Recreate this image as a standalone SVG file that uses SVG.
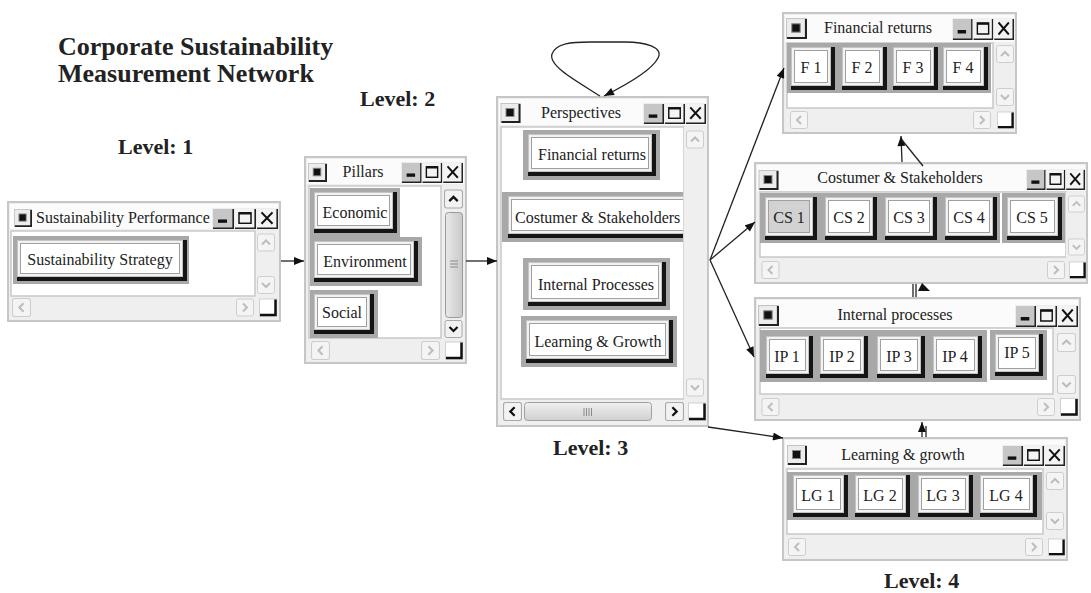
<svg xmlns="http://www.w3.org/2000/svg" xmlns:xlink="http://www.w3.org/1999/xlink" width="1091" height="593" viewBox="0 0 1091 593">
<style>
.hd{font-family:"Liberation Serif","Times New Roman",serif;font-weight:bold;fill:#222}
.tt{font-family:"Liberation Serif","Times New Roman",serif;font-size:16px;fill:#222}
.bt{font-family:"Liberation Serif","Times New Roman",serif;font-size:16px;fill:#222;text-anchor:middle}
.mid{text-anchor:middle}
.win{fill:#eeeeee;stroke:#c6c6c6;stroke-width:2}
.tb{fill:#fbfbfb}
.ct{fill:#ffffff;stroke:#c9c9c9;stroke-width:1.5}
.sb{fill:#efefef}
.frm{fill:#a8a8a8}
.bd{fill:#151515}
.bl{fill:#f2f2f2;stroke:#c4c4c4;stroke-width:1}
.bf{fill:#ffffff;stroke:#a0a0a0;stroke-width:1}
.con{fill:none;stroke:#222;stroke-width:1.3}
</style>
<defs>
<marker id="ah" viewBox="0 0 10 8" refX="10" refY="4" markerWidth="11" markerHeight="8" orient="auto" markerUnits="userSpaceOnUse"><path d="M0 0 L10 4 L0 8 Z" fill="#111"/></marker>
<symbol id="sysico" viewBox="0 0 20 20"><rect x="0.5" y="0.5" width="19" height="19" fill="#ececec" stroke="#c4c4c4"/><path d="M1 19 H19 V1" stroke="#222" stroke-width="2" fill="none"/><rect x="5.5" y="5.5" width="8" height="8" fill="#111" stroke="#888"/></symbol>
<symbol id="tbtn" viewBox="0 0 66 22" preserveAspectRatio="none"><rect x="0.5" y="0.5" width="21" height="21" fill="#c6c6c6" stroke="#eeeeee"/><path d="M1 21.2 H21.2 V1" stroke="#222" stroke-width="1.6" fill="none"/><rect x="6" y="12" width="9" height="3.5" fill="#111"/><rect x="22.5" y="0.5" width="21" height="21" fill="#f3f3f3" stroke="#eeeeee"/><path d="M23 21.2 H43.2 V1" stroke="#222" stroke-width="1.6" fill="none"/><rect x="27" y="5" width="12" height="11" fill="none" stroke="#111" stroke-width="1.5"/><line x1="27" y1="5.8" x2="39" y2="5.8" stroke="#111" stroke-width="2"/><rect x="44.5" y="0.5" width="21" height="21" fill="#f3f3f3" stroke="#eeeeee"/><path d="M45 21.2 H65.2 V1" stroke="#222" stroke-width="1.6" fill="none"/><path d="M49.5 4.5 L60.5 16.5 M60.5 4.5 L49.5 16.5" stroke="#111" stroke-width="2"/></symbol>
<symbol id="upL" viewBox="0 0 18 18"><rect x="0.5" y="0.5" width="17" height="17" rx="2" fill="#f4f4f4" stroke="#cdcdcd"/><polyline points="5,11 9,7 13,11" fill="none" stroke="#bdbdbd" stroke-width="2"/></symbol>
<symbol id="dnL" viewBox="0 0 18 18"><rect x="0.5" y="0.5" width="17" height="17" rx="2" fill="#f4f4f4" stroke="#cdcdcd"/><polyline points="5,7 9,11 13,7" fill="none" stroke="#bdbdbd" stroke-width="2"/></symbol>
<symbol id="lfL" viewBox="0 0 18 18"><rect x="0.5" y="0.5" width="17" height="17" rx="2" fill="#f4f4f4" stroke="#cdcdcd"/><polyline points="11,5 7,9 11,13" fill="none" stroke="#bdbdbd" stroke-width="2"/></symbol>
<symbol id="rtL" viewBox="0 0 18 18"><rect x="0.5" y="0.5" width="17" height="17" rx="2" fill="#f4f4f4" stroke="#cdcdcd"/><polyline points="7,5 11,9 7,13" fill="none" stroke="#bdbdbd" stroke-width="2"/></symbol>
<symbol id="upD" viewBox="0 0 18 18"><rect x="0.5" y="0.5" width="17" height="17" rx="2" fill="#f2f2f2" stroke="#a8a8a8"/><polyline points="5,11 9,7 13,11" fill="none" stroke="#111" stroke-width="2.2"/></symbol>
<symbol id="dnD" viewBox="0 0 18 18"><rect x="0.5" y="0.5" width="17" height="17" rx="2" fill="#f2f2f2" stroke="#a8a8a8"/><polyline points="5,7 9,11 13,7" fill="none" stroke="#111" stroke-width="2.2"/></symbol>
<symbol id="lfD" viewBox="0 0 18 18"><rect x="0.5" y="0.5" width="17" height="17" rx="2" fill="#f2f2f2" stroke="#a8a8a8"/><polyline points="11,5 7,9 11,13" fill="none" stroke="#111" stroke-width="2.2"/></symbol>
<symbol id="rtD" viewBox="0 0 18 18"><rect x="0.5" y="0.5" width="17" height="17" rx="2" fill="#f2f2f2" stroke="#a8a8a8"/><polyline points="7,5 11,9 7,13" fill="none" stroke="#111" stroke-width="2.2"/></symbol>
<symbol id="corner" viewBox="0 0 18 18"><rect x="0.5" y="0.5" width="17" height="17" fill="#ffffff" stroke="#d0d0d0"/><path d="M1 16.5 H16.5 V1" fill="none" stroke="#111" stroke-width="2.5"/></symbol>
<linearGradient id="thumbV" x1="0" y1="0" x2="1" y2="0"><stop offset="0" stop-color="#e9e9e9"/><stop offset="1" stop-color="#c9c9c9"/></linearGradient>
<linearGradient id="thumbH" x1="0" y1="0" x2="0" y2="1"><stop offset="0" stop-color="#f0f0f0"/><stop offset="1" stop-color="#d0d0d0"/></linearGradient>
<clipPath id="pcl"><rect x="502" y="128" width="181" height="271"/></clipPath>
</defs>

<rect width="1091" height="593" fill="#ffffff"/>

<g id="headings">
<text class="hd" x="58" y="55" font-size="26">Corporate Sustainability</text>
<text class="hd" x="58" y="82" font-size="26">Measurement Network</text>
<text class="hd" x="118" y="154" font-size="22">Level: 1</text>
<text class="hd" x="360" y="106" font-size="22">Level: 2</text>
<text class="hd" x="553" y="455" font-size="22">Level: 3</text>
<text class="hd" x="884" y="588" font-size="22">Level: 4</text>
</g>

<g id="sustainability-performance">
<rect class="win" x="8" y="202" width="272" height="119"/>
<rect class="tb" x="10" y="204" width="268" height="25"/>
<use href="#sysico" x="14" y="209" width="18" height="18"/>
<text class="tt" x="36" y="223">Sustainability Performance</text>
<use href="#tbtn" x="212" y="208" width="66" height="21"/>
<rect class="ct" x="11" y="231" width="244" height="65"/>
<rect class="sb" x="256" y="231" width="22" height="65"/>
<use href="#upL" x="257" y="233" width="18" height="19"/>
<use href="#dnL" x="257" y="276" width="18" height="18"/>
<rect class="sb" x="10" y="297" width="268" height="21"/>
<use href="#lfL" x="12" y="298" width="19" height="19"/>
<use href="#rtL" x="236" y="298" width="18" height="19"/>
<use href="#corner" x="259" y="298" width="18" height="19"/>
<rect class="frm" x="13" y="236" width="176" height="48"/>
<rect class="bd" x="17" y="240" width="170" height="41"/>
<rect class="bl" x="17.5" y="240.5" width="165" height="36"/>
<rect class="bf" x="20.5" y="243.5" width="159" height="30"/>
<text class="bt" x="100" y="265">Sustainability Strategy</text>
</g>

<g id="pillars">
<rect class="win" x="305" y="157" width="161" height="206"/>
<rect class="tb" x="307" y="159" width="157" height="25"/>
<use href="#sysico" x="308" y="163" width="19" height="19"/>
<text class="tt mid" x="363" y="177">Pillars</text>
<use href="#tbtn" x="401" y="162" width="62" height="21"/>
<rect class="ct" x="309" y="186" width="132" height="152"/>
<rect class="sb" x="442" y="186" width="22" height="153"/>
<use href="#upD" x="444" y="189" width="19" height="20"/>
<rect x="445.5" y="212.5" width="17" height="105" rx="3" fill="url(#thumbV)" stroke="#9a9a9a"/>
<path d="M450 261 H458 M450 264 H458 M450 267 H458" stroke="#8a8a8a" stroke-width="1"/>
<use href="#dnD" x="444" y="320" width="19" height="18"/>
<rect class="sb" x="307" y="340" width="157" height="21"/>
<use href="#lfL" x="311" y="341" width="19" height="19"/>
<use href="#rtL" x="421" y="341" width="19" height="19"/>
<use href="#corner" x="445" y="341" width="18" height="19"/>
<rect class="frm" x="310" y="188" width="90" height="49"/>
<rect class="bd" x="314" y="192" width="83" height="41"/>
<rect class="bl" x="314.5" y="192.5" width="78" height="36"/>
<rect class="bf" x="317.5" y="195.5" width="72" height="30"/>
<text class="bt" x="355" y="218">Economic</text>
<rect class="frm" x="310" y="237" width="112" height="49"/>
<rect class="bd" x="314" y="241" width="104" height="41"/>
<rect class="bl" x="314.5" y="241.5" width="99" height="36"/>
<rect class="bf" x="317.5" y="244.5" width="93" height="30"/>
<text class="bt" x="365" y="267">Environment</text>
<rect class="frm" x="310" y="290" width="68" height="48"/>
<rect class="bd" x="314" y="294" width="60" height="40"/>
<rect class="bl" x="314.5" y="294.5" width="55" height="35"/>
<rect class="bf" x="317.5" y="297.5" width="49" height="29"/>
<text class="bt" x="342" y="318">Social</text>
</g>

<g id="perspectives">
<rect class="win" x="497" y="97" width="211" height="329"/>
<rect class="tb" x="499" y="99" width="207" height="26"/>
<use href="#sysico" x="500" y="103" width="21" height="20"/>
<text class="tt mid" x="581" y="118">Perspectives</text>
<use href="#tbtn" x="643" y="103" width="63" height="21"/>
<rect class="ct" x="501" y="127" width="183" height="272"/>
<rect class="sb" x="684" y="127" width="22" height="273"/>
<use href="#upL" x="686" y="130" width="18" height="19"/>
<use href="#dnL" x="686" y="378" width="18" height="19"/>
<rect class="sb" x="499" y="400" width="207" height="24"/>
<use href="#lfD" x="502" y="402" width="21" height="19"/>
<rect x="524.5" y="402.5" width="127" height="18" rx="3" fill="url(#thumbH)" stroke="#a0a0a0"/>
<path d="M584 408 V416 M586.5 408 V416 M589 408 V416 M591.5 408 V416" stroke="#8a8a8a" stroke-width="1"/>
<use href="#rtD" x="664" y="402" width="21" height="19"/>
<use href="#corner" x="688" y="402" width="18" height="19"/>
<rect class="frm" x="523" y="130" width="137" height="50"/>
<rect class="bd" x="528" y="134" width="128" height="42"/>
<rect class="bl" x="528.5" y="134.5" width="123" height="37"/>
<rect class="bf" x="531.5" y="137.5" width="117" height="31"/>
<text class="bt" x="592" y="160">Financial returns</text>
<g clip-path="url(#pcl)">
<rect class="frm" x="502" y="192" width="200" height="50"/>
<rect class="bd" x="508" y="196" width="192" height="42"/>
<rect class="bl" x="508.5" y="196.5" width="187" height="37"/>
<rect class="bf" x="511.5" y="199.5" width="181" height="31"/>
<text class="tt" x="515" y="223">Costumer &amp; Stakeholders</text>
</g>
<rect class="frm" x="523" y="258" width="147" height="52"/>
<rect class="bd" x="528" y="262" width="138" height="44"/>
<rect class="bl" x="528.5" y="262.5" width="133" height="39"/>
<rect class="bf" x="531.5" y="265.5" width="127" height="33"/>
<text class="bt" x="596" y="290">Internal Processes</text>
<rect class="frm" x="521" y="316" width="156" height="51"/>
<rect class="bd" x="526" y="320" width="147" height="43"/>
<rect class="bl" x="526.5" y="320.5" width="142" height="38"/>
<rect class="bf" x="529.5" y="323.5" width="136" height="32"/>
<text class="bt" x="598" y="347">Learning &amp; Growth</text>
</g>

<g id="financial-returns">
<rect class="win" x="783" y="13" width="233" height="120"/>
<rect class="tb" x="785" y="15" width="229" height="27"/>
<use href="#sysico" x="786" y="18" width="21" height="21"/>
<text class="tt mid" x="878" y="33">Financial returns</text>
<use href="#tbtn" x="952" y="18" width="62" height="22"/>
<rect class="ct" x="787" y="43" width="206" height="65"/>
<rect class="sb" x="994" y="43" width="21" height="67"/>
<use href="#upL" x="996" y="45" width="18" height="18"/>
<use href="#dnL" x="996" y="88" width="18" height="18"/>
<rect class="sb" x="786" y="109" width="229" height="22"/>
<use href="#lfL" x="790" y="111" width="18" height="18"/>
<use href="#rtL" x="973" y="111" width="18" height="18"/>
<use href="#corner" x="997" y="111" width="17" height="18"/>
<rect class="frm" x="787" y="43" width="204" height="50"/>
<rect class="bd" x="791" y="47" width="44" height="43"/><rect class="bl" x="791.5" y="47.5" width="39" height="38"/><rect class="bf" x="794.5" y="50.5" width="33" height="32"/>
<text class="bt" x="811" y="73">F 1</text>
<rect class="bd" x="842" y="47" width="45" height="43"/><rect class="bl" x="842.5" y="47.5" width="40" height="38"/><rect class="bf" x="845.5" y="50.5" width="34" height="32"/>
<text class="bt" x="862" y="73">F 2</text>
<rect class="bd" x="893" y="47" width="45" height="43"/><rect class="bl" x="893.5" y="47.5" width="40" height="38"/><rect class="bf" x="896.5" y="50.5" width="34" height="32"/>
<text class="bt" x="913" y="73">F 3</text>
<rect class="bd" x="943" y="47" width="45" height="43"/><rect class="bl" x="943.5" y="47.5" width="40" height="38"/><rect class="bf" x="946.5" y="50.5" width="34" height="32"/>
<text class="bt" x="963" y="73">F 4</text>
</g>

<g id="costumer-stakeholders">
<rect class="win" x="755" y="163" width="332" height="120"/>
<rect class="tb" x="757" y="165" width="328" height="26"/>
<use href="#sysico" x="758" y="170" width="21" height="20"/>
<text class="tt mid" x="900" y="183">Costumer &amp; Stakeholders</text>
<use href="#tbtn" x="1026" y="169" width="59" height="21"/>
<rect class="ct" x="760" y="192" width="306" height="65"/>
<rect class="sb" x="1066" y="192" width="20" height="68"/>
<use href="#upL" x="1068" y="195" width="17" height="18"/>
<use href="#dnL" x="1068" y="238" width="17" height="18"/>
<rect class="sb" x="757" y="259" width="328" height="22"/>
<use href="#lfL" x="761" y="261" width="19" height="18"/>
<use href="#rtL" x="1047" y="261" width="18" height="18"/>
<use href="#corner" x="1069" y="261" width="17" height="18"/>
<rect class="frm" x="760" y="193" width="240" height="50"/>
<rect class="frm" x="1002" y="193" width="63" height="50"/>
<rect class="bd" x="765" y="197" width="52" height="43"/><rect class="bl" x="765.5" y="197.5" width="47" height="38"/><rect x="768.5" y="200.5" width="41" height="32" fill="#d2d2d2" stroke="#a0a0a0"/>
<text class="bt" x="789" y="223">CS 1</text>
<rect class="bd" x="825" y="197" width="52" height="43"/><rect class="bl" x="825.5" y="197.5" width="47" height="38"/><rect class="bf" x="828.5" y="200.5" width="41" height="32"/>
<text class="bt" x="849" y="223">CS 2</text>
<rect class="bd" x="885" y="197" width="52" height="43"/><rect class="bl" x="885.5" y="197.5" width="47" height="38"/><rect class="bf" x="888.5" y="200.5" width="41" height="32"/>
<text class="bt" x="909" y="223">CS 3</text>
<rect class="bd" x="945" y="197" width="52" height="43"/><rect class="bl" x="945.5" y="197.5" width="47" height="38"/><rect class="bf" x="948.5" y="200.5" width="41" height="32"/>
<text class="bt" x="969" y="223">CS 4</text>
<rect class="bd" x="1007" y="197" width="55" height="43"/><rect class="bl" x="1007.5" y="197.5" width="50" height="38"/><rect class="bf" x="1010.5" y="200.5" width="44" height="32"/>
<text class="bt" x="1032" y="223">CS 5</text>
</g>

<g id="internal-processes">
<rect class="win" x="755" y="298" width="325" height="122"/>
<rect class="tb" x="757" y="300" width="321" height="27"/>
<use href="#sysico" x="758" y="305" width="21" height="21"/>
<text class="tt mid" x="895" y="320">Internal processes</text>
<use href="#tbtn" x="1015" y="305" width="63" height="22"/>
<rect class="ct" x="760" y="328" width="293" height="66"/>
<rect class="sb" x="1054" y="328" width="24" height="69"/>
<use href="#upL" x="1057" y="333" width="19" height="19"/>
<use href="#dnL" x="1057" y="375" width="19" height="19"/>
<rect class="sb" x="757" y="396" width="321" height="22"/>
<use href="#lfL" x="761" y="398" width="19" height="18"/>
<use href="#rtL" x="1037" y="398" width="18" height="18"/>
<use href="#corner" x="1060" y="398" width="18" height="18"/>
<rect class="frm" x="760" y="330" width="227" height="52"/>
<rect class="bd" x="766" y="336" width="47" height="42"/><rect class="bl" x="766.5" y="336.5" width="42" height="37"/><rect class="bf" x="769.5" y="339.5" width="36" height="31"/>
<text class="bt" x="787" y="362">IP 1</text>
<rect class="bd" x="820" y="336" width="48" height="42"/><rect class="bl" x="820.5" y="336.5" width="43" height="37"/><rect class="bf" x="823.5" y="339.5" width="37" height="31"/>
<text class="bt" x="842" y="362">IP 2</text>
<rect class="bd" x="877" y="336" width="48" height="42"/><rect class="bl" x="877.5" y="336.5" width="43" height="37"/><rect class="bf" x="880.5" y="339.5" width="37" height="31"/>
<text class="bt" x="899" y="362">IP 3</text>
<rect class="bd" x="933" y="336" width="49" height="42"/><rect class="bl" x="933.5" y="336.5" width="44" height="37"/><rect class="bf" x="936.5" y="339.5" width="38" height="31"/>
<text class="bt" x="955" y="362">IP 4</text>
<rect class="frm" x="990" y="330" width="57" height="50"/>
<rect class="bd" x="995" y="334" width="48" height="42"/><rect class="bl" x="995.5" y="334.5" width="43" height="37"/><rect class="bf" x="998.5" y="337.5" width="37" height="31"/>
<text class="bt" x="1017" y="358">IP 5</text>
</g>

<g id="learning-growth">
<rect class="win" x="783" y="438" width="284" height="122"/>
<rect class="tb" x="785" y="440" width="280" height="27"/>
<use href="#sysico" x="787" y="445" width="20" height="20"/>
<text class="tt mid" x="903" y="460">Learning &amp; growth</text>
<use href="#tbtn" x="1002" y="445" width="63" height="21"/>
<rect class="ct" x="787" y="469" width="256" height="65"/>
<rect class="sb" x="1044" y="469" width="21" height="67"/>
<use href="#upL" x="1046" y="472" width="18" height="18"/>
<use href="#dnL" x="1046" y="512" width="18" height="18"/>
<rect class="sb" x="785" y="536" width="280" height="22"/>
<use href="#lfL" x="788" y="538" width="18" height="18"/>
<use href="#rtL" x="1025" y="538" width="18" height="18"/>
<use href="#corner" x="1048" y="538" width="17" height="18"/>
<rect class="frm" x="787" y="472" width="255" height="48"/>
<rect class="bd" x="793" y="475" width="55" height="42"/><rect class="bl" x="793.5" y="475.5" width="50" height="37"/><rect class="bf" x="796.5" y="478.5" width="44" height="31"/>
<text class="bt" x="818" y="501">LG 1</text>
<rect class="bd" x="855" y="475" width="55" height="42"/><rect class="bl" x="855.5" y="475.5" width="50" height="37"/><rect class="bf" x="858.5" y="478.5" width="44" height="31"/>
<text class="bt" x="880" y="501">LG 2</text>
<rect class="bd" x="918" y="475" width="55" height="42"/><rect class="bl" x="918.5" y="475.5" width="50" height="37"/><rect class="bf" x="921.5" y="478.5" width="44" height="31"/>
<text class="bt" x="943" y="501">LG 3</text>
<rect class="bd" x="980" y="475" width="57" height="42"/><rect class="bl" x="980.5" y="475.5" width="52" height="37"/><rect class="bf" x="983.5" y="478.5" width="46" height="31"/>
<text class="bt" x="1006" y="501">LG 4</text>
</g>

<g id="connectors">
<line class="con" x1="281" y1="261" x2="304" y2="261" marker-end="url(#ah)"/>
<line class="con" x1="466" y1="261" x2="497" y2="261" marker-end="url(#ah)"/>
<path class="con" d="M600 96 C578 82 548 66 552 54 C556 43 572 42 590 42 L625 42 C645 42 664 47 658 58 C652 70 628 84 604 96" marker-end="url(#ah)"/>
<line class="con" x1="710" y1="260" x2="784" y2="68" marker-end="url(#ah)"/>
<line class="con" x1="710" y1="260" x2="755" y2="222" marker-end="url(#ah)"/>
<line class="con" x1="710" y1="260" x2="754" y2="357" marker-end="url(#ah)"/>
<line class="con" x1="708" y1="427" x2="783" y2="438" marker-end="url(#ah)"/>
<line class="con" x1="902" y1="162" x2="901" y2="136" marker-end="url(#ah)"/>
<line class="con" x1="923" y1="166" x2="902" y2="140"/>
<line class="con" x1="913" y1="297" x2="913" y2="284"/>
<line class="con" x1="916" y1="297" x2="916" y2="284"/>
<path d="M922 283 L930 291 L918 291 Z" fill="#111"/>
<line class="con" x1="922" y1="437" x2="922" y2="422" marker-end="url(#ah)"/>
<line class="con" x1="926" y1="437" x2="926" y2="426"/>
</g>
</svg>
